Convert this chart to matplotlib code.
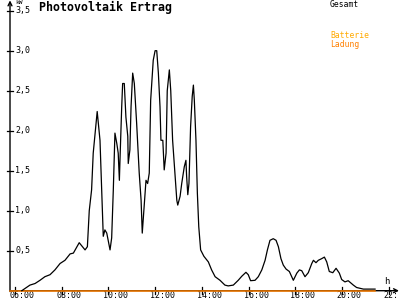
import matplotlib
matplotlib.use("Agg")
import matplotlib.pyplot as plt

# ---- data ----
hours = [6.29, 6.64, 6.86, 7.07, 7.28, 7.50, 7.71, 7.93, 8.14, 8.36, 8.50, 8.75, 9.00, 9.10,
         9.18, 9.28, 9.35, 9.50, 9.52, 9.64, 9.71, 9.78, 9.85, 9.93, 10.07, 10.14, 10.21,
         10.28, 10.36, 10.42, 10.47, 10.50, 10.57, 10.61, 10.68, 10.75, 10.83, 10.85, 10.92,
         10.97, 11.04, 11.11, 11.21, 11.32, 11.40, 11.45, 11.54, 11.61, 11.68, 11.75, 11.81,
         11.92, 12.00, 12.07, 12.14, 12.21, 12.25, 12.33, 12.39, 12.47, 12.52, 12.61, 12.67,
         12.75, 12.85, 12.93, 12.97, 13.07, 13.14, 13.25, 13.32, 13.35, 13.40, 13.45, 13.52,
         13.59, 13.64, 13.68, 13.75, 13.81, 13.87, 13.95, 14.09, 14.28, 14.42, 14.57, 14.78,
         14.99, 15.13, 15.35, 15.56, 15.71, 15.89, 15.99, 16.09, 16.28, 16.42, 16.57, 16.71,
         16.81, 16.92, 17.06, 17.18, 17.28, 17.39, 17.49, 17.61, 17.75, 17.92, 18.07, 18.18,
         18.28, 18.42, 18.56, 18.71, 18.78, 18.89, 18.99, 19.13, 19.25, 19.35, 19.46, 19.61,
         19.75, 19.89, 19.99, 20.13, 20.27, 20.49, 20.63, 20.78, 20.92, 21.42]
gesamt_kw = [0.00, 0.07, 0.09, 0.13, 0.175, 0.20, 0.26, 0.34, 0.38, 0.46, 0.47, 0.60, 0.51, 0.55,
             1.00, 1.26, 1.72, 2.17, 2.24, 1.88, 1.26, 0.68, 0.76, 0.72, 0.51, 0.66, 1.26,
             1.97, 1.84, 1.72, 1.38, 1.67, 2.30, 2.59, 2.59, 2.17, 1.93, 1.59, 1.76,
             2.30, 2.72, 2.59, 2.09, 1.47, 1.13, 0.72, 1.09, 1.38, 1.34, 1.47, 2.38,
             2.88, 3.00, 3.00, 2.72, 2.30, 1.88, 1.88, 1.51, 1.72, 2.50, 2.76, 2.50,
             1.88, 1.47, 1.13, 1.07, 1.18, 1.34, 1.55, 1.63, 1.43, 1.20, 1.34, 2.05,
             2.43, 2.57, 2.38, 1.88, 1.22, 0.80, 0.51, 0.43, 0.36, 0.26, 0.175, 0.13,
             0.07, 0.06, 0.07, 0.13, 0.18, 0.23, 0.20, 0.125, 0.13, 0.175, 0.26, 0.38,
             0.51, 0.63, 0.65, 0.63, 0.55, 0.40, 0.32, 0.27, 0.24, 0.13, 0.22, 0.26,
             0.25, 0.175, 0.225, 0.34, 0.38, 0.35, 0.38, 0.40, 0.42, 0.36, 0.24, 0.225,
             0.28, 0.22, 0.14, 0.11, 0.125, 0.07, 0.04, 0.03, 0.02, 0.02]
batterie_hours = [5.79, 21.42]
batterie_kw = [0.0, 0.0]

ytick_vals = [0.5, 1.0, 1.5, 2.0, 2.5, 3.0, 3.5]
ytick_labels = ["0,5", "1,0", "1,5", "2,0", "2,5", "3,0", "3,5"]
xtick_vals = [6, 8, 10, 12, 14, 16, 18, 20, 22]
xtick_labels = ["06:00", "08:00", "10:00", "12:00", "14:00", "16:00", "18:00", "20:00", "22:"]

# ---- figure ----
W, H = 400, 300
fig = plt.figure(figsize=(4, 3), dpi=100)
ax = fig.add_axes([0, 0, 1, 1])
ax.set_axis_off()
pxh = 23.35   # px per hour
pxk = 80.0    # px per kW
x0 = 6 - 15 / pxh
x1 = x0 + W / pxh
y1 = 290.7 / pxk
y0 = y1 - H / pxk
ax.set_xlim(x0, x1)
ax.set_ylim(y0, y1)

mono = "DejaVu Sans Mono"
axis_x = 5.786

# axes lines with arrows
ax.annotate("", xy=(axis_x, y1 - 0.005), xytext=(axis_x, -0.01), annotation_clip=False,
            arrowprops=dict(arrowstyle="->", lw=1.0, color="black", mutation_scale=7,
                            shrinkA=0, shrinkB=0))
ax.annotate("", xy=(x0 + 399 / pxh, 0), xytext=(axis_x, 0), annotation_clip=False,
            arrowprops=dict(arrowstyle="->", lw=1.0, color="black", mutation_scale=7,
                            shrinkA=0, shrinkB=0))

# y ticks
for v, lab in zip(ytick_vals, ytick_labels):
    ax.plot([axis_x - 3 / pxh, axis_x + 3 / pxh], [v, v], color="black", lw=0.9)
    ax.text(axis_x + 5 / pxh, v, lab, fontsize=6, family=mono, ha="left", va="center")
ax.text(axis_x + 5 / pxh, y1 - 3 / pxk, "kW", fontsize=4.5, family=mono, ha="left", va="center")

# x ticks
for v, lab in zip(xtick_vals, xtick_labels):
    ax.plot([v, v], [-3.5 / pxk, 3.5 / pxk], color="black", lw=0.9)
    ax.text(v - 5 / pxh, -4.6 / pxk, lab, fontsize=6, family=mono, ha="left", va="center",
            clip_on=False)
ax.text(x0 + 387 / pxh, -(281 - 290.7) / pxk, "h", fontsize=6.5, family=mono,
        ha="center", va="center")

# series
ax.plot(batterie_hours, batterie_kw, color="#FF8000", lw=1.1, zorder=3)
ax.plot(hours, gesamt_kw, color="black", lw=0.9, zorder=4)

# texts
fig.text(39 / W, 1 - 7.5 / H, "Photovoltaik Ertrag", fontsize=8.4, family=mono,
         weight="bold", ha="left", va="center")
fig.text(330 / W, 1 - 4.5 / H, "Gesamt", fontsize=5.8, family=mono, ha="left", va="center")
fig.text(330 / W, 1 - 36 / H, "Batterie", fontsize=5.8, family=mono, ha="left", va="center",
         color="#FFAA00")
fig.text(330 / W, 1 - 44 / H, "Ladung", fontsize=5.8, family=mono, ha="left", va="center",
         color="#FF8000")

fig.savefig("out.png", dpi=100)
